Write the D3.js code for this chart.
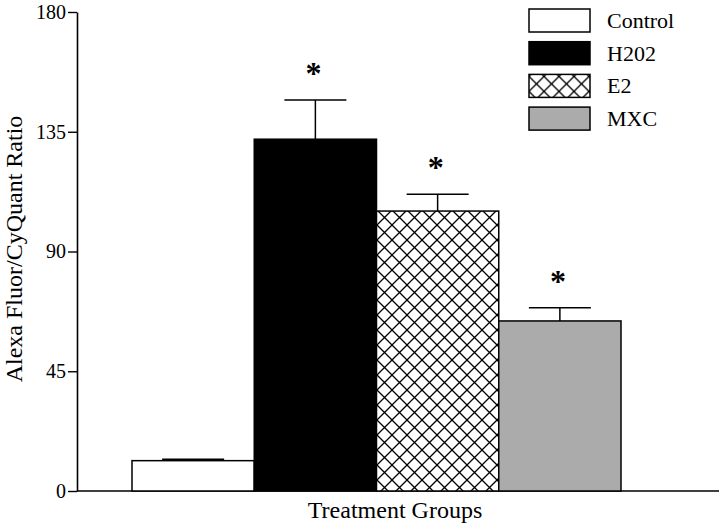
<!DOCTYPE html>
<html>
<head>
<meta charset="utf-8">
<script src="https://cdn.jsdelivr.net/npm/d3@7"></script>
<style>
  body { margin: 0; background: #fff; }
</style>
</head>
<body>
<script>
'use strict';

// chart data
const groups = ["Control", "H202", "E2", "MXC"];
const means = [11.4, 132.2, 105.2, 63.9];
const errors = [0.5, 14.7, 6.3, 5.0];
const significant = [false, true, true, true];
const yTicks = [0, 45, 90, 135, 180];

const serif = "'Liberation Serif', 'Times New Roman', serif";

const fills = {
  "Control": "#ffffff",
  "H202": "#000000",
  "E2": "url(#hatch)",
  "MXC": "#ababab"
};

let svg = d3.select('body')
  .append('svg')
  .attr('width', 720)
  .attr('height', 524)
  .attr('font-family', serif);

// cross hatch pattern for E2
let defs = svg.append('defs');
function makeHatch(id, ox, oy) {
  let pat = defs.append('pattern')
    .attr('id', id)
    .attr('patternUnits', 'userSpaceOnUse')
    .attr('width', 15)
    .attr('height', 15)
    .attr('x', ox)
    .attr('y', oy);
  pat.append('rect').attr('width', 15).attr('height', 15).attr('fill', '#fff');
  pat.append('path')
    .attr('d', 'M0,0L15,15M15,0L0,15')
    .attr('stroke', '#000')
    .attr('stroke-width', 1.3);
}
makeHatch('hatch', 377, 0);
makeHatch('hatchLegend', 0, 2);

// scales
let x = d3.scaleBand()
  .domain(groups)
  .range([132, 621])
  .padding(0);

let y = d3.scaleLinear()
  .domain([0, 180])
  .range([491, 12]);

// y axis
let yAxis = d3.axisLeft(y)
  .tickValues(yTicks)
  .tickSize(9)
  .tickSizeOuter(0)
  .tickPadding(2);

let gy = svg.append('g')
  .attr('transform', 'translate(77, 0)')
  .call(yAxis)
  .attr('font-family', serif)
  .attr('font-size', 20);
gy.select('.domain').attr('stroke-width', 1.6);
gy.selectAll('.tick line').attr('stroke-width', 1.4);
gy.selectAll('.tick text')
  .style('font-family', serif)
  .style('font-size', '20px');

// x axis line (no ticks)
svg.append('line')
  .attr('x1', 77)
  .attr('x2', 719)
  .attr('y1', y(0))
  .attr('y2', y(0))
  .attr('stroke', '#000')
  .attr('stroke-width', 1.6);

// bars
svg.selectAll('.bar')
  .data(groups)
  .enter()
  .append('rect')
  .attr('class', 'bar')
  .attr('x', (d) => x(d))
  .attr('width', x.bandwidth())
  .attr('y', (d, i) => y(means[i]))
  .attr('height', (d, i) => y(0) - y(means[i]))
  .attr('fill', (d) => fills[d])
  .attr('stroke', '#000')
  .attr('stroke-width', 1.5);

// error bars (upper only)
let capHalf = 31;
groups.forEach((g, i) => {
  let cx = x(g) + x.bandwidth() / 2;
  svg.append('line')
    .attr('x1', cx).attr('x2', cx)
    .attr('y1', y(means[i])).attr('y2', y(means[i] + errors[i]))
    .attr('stroke', '#000').attr('stroke-width', 1.5);
  svg.append('line')
    .attr('x1', cx - capHalf).attr('x2', cx + capHalf)
    .attr('y1', y(means[i] + errors[i])).attr('y2', y(means[i] + errors[i]))
    .attr('stroke', '#000').attr('stroke-width', 1.5);
  if (significant[i]) {
    svg.append('text')
      .attr('x', cx - 2)
      .attr('y', y(means[i] + errors[i]) - 16)
      .attr('text-anchor', 'middle')
      .style('font-family', serif)
      .style('font-size', '32px')
      .style('font-weight', 'bold')
      .text('*');
  }
});

// axis labels
svg.append('text')
  .attr('x', 395)
  .attr('y', 518)
  .attr('text-anchor', 'middle')
  .style('font-family', serif)
  .style('font-size', '24px')
  .text('Treatment Groups');

svg.append('text')
  .attr('transform', 'translate(22, 249)rotate(-90)')
  .attr('text-anchor', 'middle')
  .style('font-family', serif)
  .style('font-size', '24px')
  .text('Alexa Fluor/CyQuant Ratio');

// legend
let legend = svg.append('g')
  .selectAll('g')
  .data(groups)
  .enter()
  .append('g')
  .attr('transform', (d, i) => 'translate(529,' + (9 + i * 32.7) + ')');

legend.append('rect')
  .attr('width', 61)
  .attr('height', 23)
  .attr('fill', (d) => d === "E2" ? "url(#hatchLegend)" : fills[d])
  .attr('stroke', '#000')
  .attr('stroke-width', 1.5);

legend.append('text')
  .attr('x', 78)
  .attr('y', 19)
  .style('font-family', serif)
  .style('font-size', '22px')
  .text((d) => d);
</script>
</body>
</html>
